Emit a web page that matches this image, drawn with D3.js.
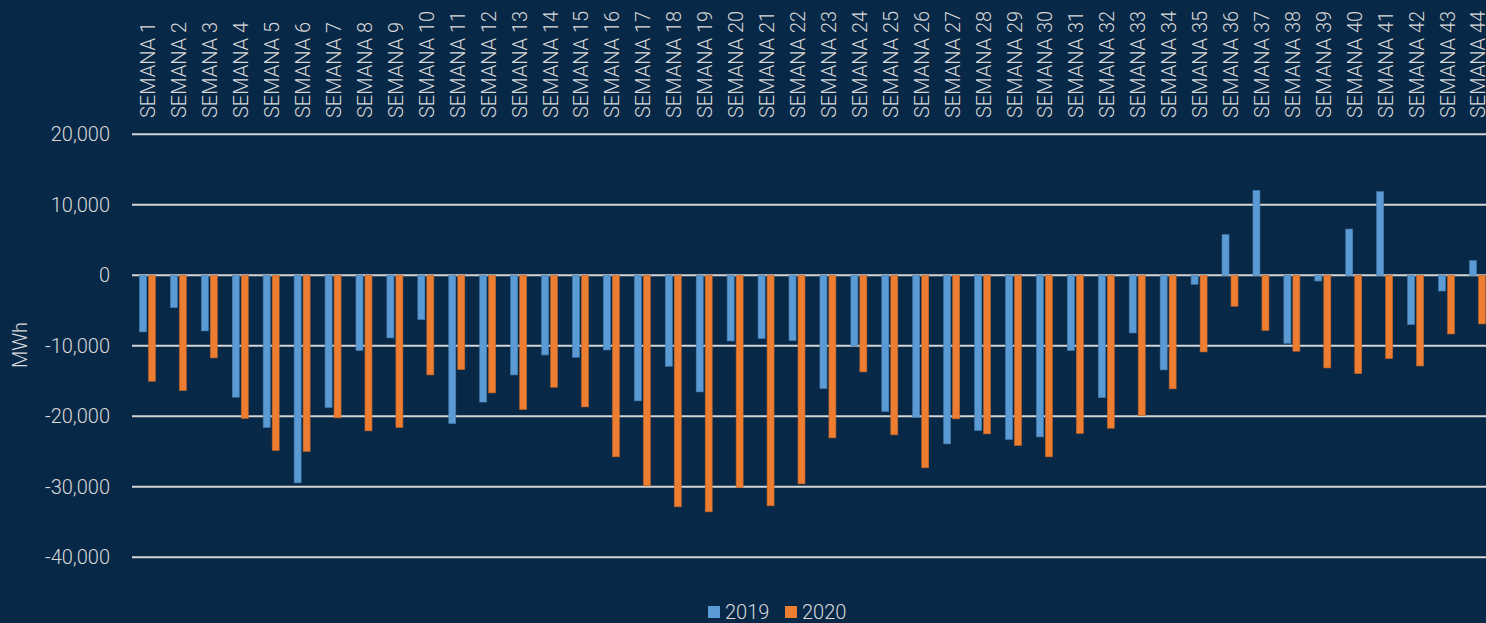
<!DOCTYPE html>
<html lang="es">
<head>
<meta charset="UTF-8">
<title>Semanas MWh</title>
<style>
    body, html {
        margin: 0;
        padding: 0;
        background: #082848;
        overflow: hidden;
    }
    text {
        font-family: Roboto, "Liberation Sans", sans-serif;
        font-weight: 300;
        fill: #d9d9d9;
    }
</style>
<script src="https://d3js.org/d3.v7.min.js"></script>
</head>
<body>
<div id="chart"></div>
<script>
    // datos
    const weeks = d3.range(1, 45).map(d => 'SEMANA ' + d);
    const series = ['2019', '2020'];
    const v2019 = [-8030, -4580, -7890, -17290, -21590, -29440, -18750, -10680, -8880, -6280,
        -21020, -17980, -14130, -11300, -11620, -10590, -17810, -12900, -16540, -9310,
        -8980, -9260, -16060, -10020, -19320, -20170, -23910, -22010, -23290, -22920,
        -10680, -17340, -8180, -13420, -1280, 5770, 12050, -9640, -810, 6560,
        11860, -6990, -2230, 2080];
    const v2020 = [-15025, -16350, -11720, -20310, -24850, -24990, -20220, -22070, -21590, -14130,
        -13370, -16680, -19040, -15875, -18670, -25750, -29860, -32840, -33550, -30090,
        -32700, -29580, -23060, -13700, -22630, -27310, -20360, -22490, -24140, -25750,
        -22440, -21690, -19890, -16110, -10870, -4390, -7840, -10770, -13140, -13940,
        -11810, -12860, -8320, -6900];
    const yTicks = [-40000, -30000, -20000, -10000, 0, 10000, 20000];
    const colors = ['#5b9bd5', '#ed7d31'];

    const width = 1486, height = 623;
    const fs = 20;
    const svg = d3.select('#chart').append('svg')
        .attr('width', width).attr('height', height);

    const y = d3.scaleLinear().domain([-40000, 20000]).range([557.3, 134.3]);
    // the last group runs past the right edge, as in the original
    const x0 = d3.scaleBand().domain(weeks).range([132, 132 + 44 * 30.93]);
    const x1 = d3.scaleBand().domain(series)
        .range([(x0.bandwidth() - 16) / 2, (x0.bandwidth() + 16) / 2])
        .paddingInner(2 / 9);

    // grid lines
    svg.append('g')
        .selectAll('line')
        .data(yTicks)
        .join('line')
        .attr('x1', 132).attr('x2', width)
        .attr('y1', d => y(d)).attr('y2', d => y(d))
        .attr('stroke', '#d4d4d4')
        .attr('stroke-width', 2);

    // y axis labels
    const yAxis = d3.axisLeft(y).tickValues(yTicks).tickSize(0).tickPadding(0)
        .tickFormat(d3.format(','));
    svg.append('g')
        .attr('transform', 'translate(110,0)')
        .call(yAxis)
        .call(g => g.select('.domain').remove())
        .call(g => g.selectAll('text')
            .attr('font-size', fs)
            .attr('fill', '#d9d9d9')
            .attr('font-family', 'Roboto, sans-serif')
            .attr('font-weight', 300)
            .text(d => d3.format(',')(d).replace('−', '-')));

    svg.append('text')
        .attr('transform', 'translate(20,345) rotate(-90)')
        .attr('text-anchor', 'middle')
        .attr('dy', '0.35em')
        .attr('font-size', fs)
        .text('MWh');

    // week labels at the top
    svg.append('g')
        .selectAll('text')
        .data(weeks)
        .join('text')
        .attr('transform', d => `translate(${x0(d) + x0.bandwidth() / 2 + 1},118) rotate(-90)`)
        .attr('dy', '0.35em')
        .attr('font-size', fs)
        .text(d => d);

    // bars
    const rows = weeks.map((w, i) => ({week: w, values: [v2019[i], v2020[i]]}));
    svg.append('g')
        .selectAll('g')
        .data(rows)
        .join('g')
        .attr('transform', d => `translate(${x0(d.week)},0)`)
        .selectAll('rect')
        .data(d => d.values.map((v, j) => ({key: series[j], v: v, c: colors[j]})))
        .join('rect')
        .attr('x', d => x1(d.key))
        .attr('width', x1.bandwidth())
        .attr('y', d => y(Math.max(0, d.v)))
        .attr('height', d => Math.abs(y(d.v) - y(0)))
        .attr('fill', d => d.c)
        .attr('stroke', d => d3.color(d.c).darker(0.6))
        .attr('stroke-width', 0.6);

    // legend
    const legend = svg.append('g').attr('transform', 'translate(708,606)');
    const items = legend.selectAll('g')
        .data(series)
        .join('g')
        .attr('transform', (d, i) => `translate(${i * 77},0)`);
    items.append('rect')
        .attr('width', 12).attr('height', 12)
        .attr('fill', (d, i) => colors[i]);
    items.append('text')
        .attr('x', 17).attr('y', 12.5)
        .attr('font-size', fs)
        .text(d => d);
</script>
</body>
</html>
